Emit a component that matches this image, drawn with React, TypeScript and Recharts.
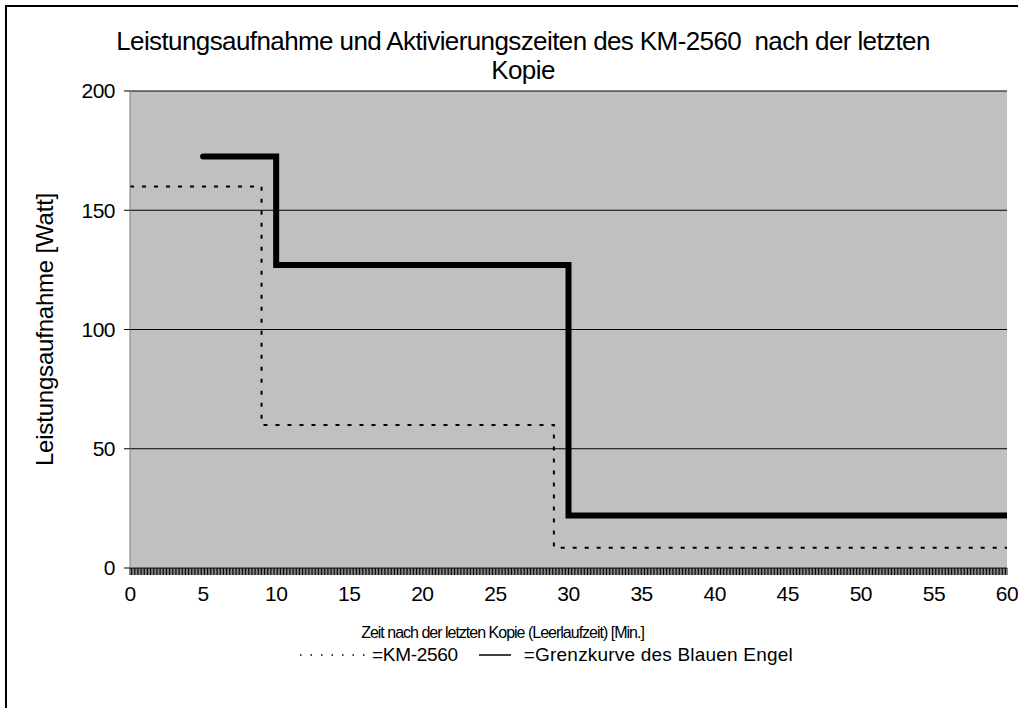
import { CartesianGrid, Label, Line, LineChart, XAxis, YAxis } from "recharts";

// KM-2560 measured curve (step after each point)
const kmMinutes = [0, 9, 29, 60];
const kmWatt = [160, 60, 8.5, 8.5];

// limit curve of the Blauer Engel
const grenzMinutes = [5, 10, 30, 60];
const grenzWatt = [172.5, 127, 22, 22];

const xLabelTicks = [0, 5, 10, 15, 20, 25, 30, 35, 40, 45, 50, 55, 60];
const yTicks = [0, 50, 100, 150, 200];

// dense category-style tick marks along the time axis (every 0.1 min)
const minorTicks = Array.from({ length: 601 }, (_, i) => i / 10);

const kmData = kmMinutes.map((t, i) => ({ t, watt: kmWatt[i] }));
const grenzData = grenzMinutes.map((t, i) => ({ t, watt: grenzWatt[i] }));

const font = "'Liberation Sans', Arial, sans-serif";

function XTick({ x, y, payload }: any) {
  if (!xLabelTicks.includes(payload.value)) return <g />;
  return (
    <text x={x} y={y} dy={24} textAnchor="middle" fontSize={21} fill="#000" fontFamily={font} letterSpacing={-0.5}>
      {payload.value}
    </text>
  );
}

export default function App() {
  return (
    <div style={{ position: "absolute", left: 0, top: 0, width: 1018, height: 708, overflow: "hidden", background: "#fff", fontFamily: font }}>
      <div style={{ position: "absolute", left: 5, top: 5, width: 1040, height: 730, border: "2px solid #000" }} />
      <div style={{ position: "absolute", left: 0, top: 0 }}>
        <LineChart width={1018} height={708} margin={{ top: 91, right: 11, bottom: 50, left: 0 }}>
          <CartesianGrid vertical={false} stroke="#000" fill="#c0c0c0" fillOpacity={1} />
          <XAxis
            dataKey="t"
            type="number"
            domain={[0, 60]}
            ticks={minorTicks}
            interval={0}
            tick={<XTick />}
            tickSize={7}
            tickMargin={2}
            tickLine={{ stroke: "#000" }}
            axisLine={{ stroke: "#808080" }}
            height={90}
            allowDataOverflow
          >
            <Label
              value="Zeit nach der letzten Kopie (Leerlaufzeit) [Min.]"
              position="insideTop"
              offset={59}
              dx={-66}
              style={{ fontSize: 16, fill: "#000", fontFamily: font, letterSpacing: -1 }}
            />
          </XAxis>
          <YAxis
            type="number"
            domain={[0, 200]}
            ticks={yTicks}
            width={130}
            tickSize={6}
            tickMargin={9}
            tickLine={{ stroke: "#000" }}
            axisLine={{ stroke: "#808080" }}
            tick={{ fontSize: 21, fill: "#000", fontFamily: font, letterSpacing: -0.5 }}
          >
            <Label
              value="Leistungsaufnahme [Watt]"
              angle={-90}
              position="insideLeft"
              offset={44}
              style={{ textAnchor: "middle", fontSize: 24, fill: "#000", fontFamily: font, letterSpacing: -0.2 }}
            />
          </YAxis>
          <Line
            data={kmData}
            dataKey="watt"
            type="stepAfter"
            stroke="#000"
            strokeWidth={2}
            strokeDasharray="4 8"
            dot={false}
            activeDot={false}
            isAnimationActive={false}
          />
          <Line
            data={grenzData}
            dataKey="watt"
            type="stepAfter"
            stroke="#000"
            strokeWidth={6}
            strokeLinecap="round"
            dot={false}
            activeDot={false}
            isAnimationActive={false}
          />
        </LineChart>
      </div>
      <div
        style={{
          position: "absolute",
          left: 0,
          width: 1046,
          top: 27,
          textAlign: "center",
          fontSize: 26,
          lineHeight: "29px",
          letterSpacing: -0.6,
          color: "#000",
        }}
      >
        Leistungsaufnahme und Aktivierungszeiten des KM-2560&nbsp; nach der letzten
        <br />
        Kopie
      </div>
      <div
        style={{
          position: "absolute",
          left: 300,
          top: 644,
          fontSize: 19,
          letterSpacing: -0.3,
          color: "#000",
          display: "flex",
          alignItems: "center",
          whiteSpace: "nowrap",
        }}
      >
        <svg width={72} height={6}>
          <line x1={0} y1={3} x2={72} y2={3} stroke="#000" strokeWidth={1.5} strokeDasharray="1.5 9" />
        </svg>
        <span>=KM-2560</span>
        <svg width={32} height={6} style={{ marginLeft: 21, marginRight: 13 }}>
          <line x1={0} y1={3} x2={32} y2={3} stroke="#000" strokeWidth={1.5} />
        </svg>
        <span style={{ letterSpacing: 0.2 }}>=Grenzkurve des Blauen Engel</span>
      </div>
    </div>
  );
}
